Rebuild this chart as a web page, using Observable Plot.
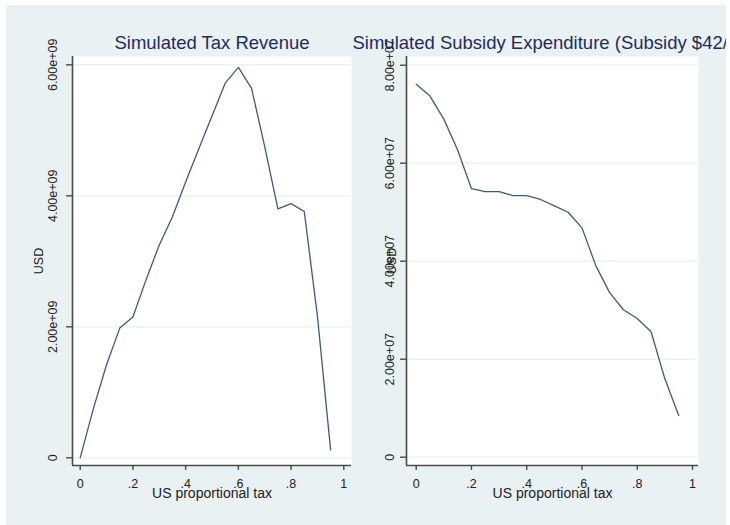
<!DOCTYPE html>
<html>
<head>
<meta charset="utf-8">
<script src="https://cdn.jsdelivr.net/npm/d3@7"></script>
<script src="https://cdn.jsdelivr.net/npm/@observablehq/plot@0.6"></script>
<style>
  html, body { margin: 0; padding: 0; background: #ffffff; }
  #outer { position: relative; width: 730px; height: 525px; overflow: hidden; }
  #wrap { position: absolute; left: 0; top: 0; width: 726px; height: 525px; overflow: hidden; font-family: "Liberation Sans", Arial, sans-serif; }
  #bg { position: absolute; left: 6px; top: 5px; width: 720px; height: 520px; background: #e9f1f3; }
  #wrap svg.panel { position: absolute; left: 0; top: 0; max-width: none !important; width: 730px !important; height: 525px !important; }
</style>
</head>
<body>
<div id="outer"><div id="wrap"><div id="bg"></div></div></div>
<script>
// ---- data ----
const taxRate = [0, 0.05, 0.10, 0.15, 0.20, 0.25, 0.30, 0.35, 0.40, 0.45, 0.50, 0.55, 0.60, 0.65, 0.70, 0.75, 0.80, 0.85, 0.90, 0.95];
const taxRevenue = [0, 0.75e9, 1.42e9, 1.98e9, 2.15e9, 2.72e9, 3.25e9, 3.68e9, 4.21e9, 4.72e9, 5.22e9, 5.72e9, 5.96e9, 5.64e9, 4.75e9, 3.80e9, 3.88e9, 3.76e9, 2.16e9, 0.12e9];
const subsidyExp = [7.61e7, 7.37e7, 6.90e7, 6.27e7, 5.48e7, 5.42e7, 5.42e7, 5.34e7, 5.34e7, 5.26e7, 5.13e7, 5.00e7, 4.68e7, 3.91e7, 3.36e7, 3.01e7, 2.83e7, 2.56e7, 1.60e7, 0.85e7];

const xTicks = [0, 0.2, 0.4, 0.6, 0.8, 1];
const xTickLabels = ["0", ".2", ".4", ".6", ".8", "1"];
const yTicksTax = [0, 2e9, 4e9, 6e9];
const yTickLabelsTax = ["0", "2.00e+09", "4.00e+09", "6.00e+09"];
const yTicksSub = [0, 2e7, 4e7, 6e7, 8e7];
const yTickLabelsSub = ["0", "2.00e+07", "4.00e+07", "6.00e+07", "8.00e+07"];

const titleTax = "Simulated Tax Revenue";
const titleSub = "Simulated Subsidy Expenditure (Subsidy $42/t)";
const xLabel = "US proportional tax";
const yLabel = "USD";

// ---- styles ----
const lineColor = "#3b5b80";
const gridColor = "#e6eff1";
const axisColor = "#4a4a4a";
const textColor = "#222222";
const titleColor = "#1f2c5c";
const font = "'Liberation Sans', Arial, sans-serif";

function panel({xs, ys, yTicks, yTickLabels, title, left, right, xDomain, yDomain, yLabDx, usdDx, titleOpts}) {
  const pts = xs.map((x, i) => ({x, y: ys[i]}));
  const xT = xTicks.map((v, i) => ({v, t: xTickLabels[i]}));
  const yT = yTicks.map((v, i) => ({v, t: yTickLabels[i]}));
  return Plot.plot({
    width: 730, height: 525,
    marginLeft: left, marginRight: 730 - right, marginTop: 56, marginBottom: 60,
    x: {domain: xDomain, axis: null},
    y: {domain: yDomain, axis: null},
    style: {background: "transparent", overflow: "visible", fontFamily: font, maxWidth: "none"},
    marks: [
      Plot.frame({fill: "white", stroke: null}),
      Plot.ruleY(yTicks, {stroke: gridColor, strokeWidth: 1.2}),
      Plot.line(pts, {x: "x", y: "y", stroke: lineColor, strokeWidth: 1.3}),
      Plot.ruleX([xDomain[0]], {stroke: axisColor, strokeWidth: 1.6}),
      Plot.ruleY([yDomain[0]], {stroke: axisColor, strokeWidth: 1.6}),
      Plot.axisY(yTicks, {anchor: "left", tickSize: 6, tickFormat: () => "", label: null, stroke: axisColor, strokeWidth: 1.4}),
      Plot.axisX(xTicks, {anchor: "bottom", tickSize: 5, tickFormat: () => "", label: null, stroke: axisColor, strokeWidth: 1.4}),
      Plot.text(yT, {y: "v", text: "t", frameAnchor: "left", rotate: -90, dx: yLabDx, textAnchor: "middle", lineAnchor: "middle", fontSize: 12.5, fill: textColor}),
      Plot.text(xT, {x: "v", text: "t", frameAnchor: "bottom", dy: 18.5, textAnchor: "middle", lineAnchor: "middle", fontSize: 12.5, fill: textColor}),
      Plot.text([xLabel], {frameAnchor: "bottom", dy: 32, lineAnchor: "bottom", fontSize: 14, fill: textColor}),
      Plot.text([yLabel], {frameAnchor: "left", dx: usdDx, rotate: -90, textAnchor: "middle", lineAnchor: "middle", fontSize: 12.5, fill: textColor}),
      Plot.text([title], {...titleOpts, lineAnchor: "bottom", fontSize: 18.5, fill: titleColor})
    ]
  });
}

const wrap = document.getElementById("wrap");

const p1 = panel({
  xs: taxRate, ys: taxRevenue, yTicks: yTicksTax, yTickLabels: yTickLabelsTax,
  title: titleTax, left: 72, right: 351,
  xDomain: [-0.0292, 1.0292], yDomain: [-0.1176e9, 6.127e9],
  yLabDx: -20, usdDx: -34,
  titleOpts: {frameAnchor: "top", dy: -7.5, textAnchor: "middle"}
});
p1.classList.add("panel");
wrap.appendChild(p1);

const p2 = panel({
  xs: taxRate, ys: subsidyExp, yTicks: yTicksSub, yTickLabels: yTickLabelsSub,
  title: titleSub, left: 406, right: 698,
  xDomain: [-0.0351, 1.0217], yDomain: [-0.169e7, 8.178e7],
  yLabDx: -16.5, usdDx: -15,
  titleOpts: {frameAnchor: "top-left", dx: -54, dy: -7.5, textAnchor: "start"}
});
p2.classList.add("panel");
wrap.appendChild(p2);
</script>
</body>
</html>
